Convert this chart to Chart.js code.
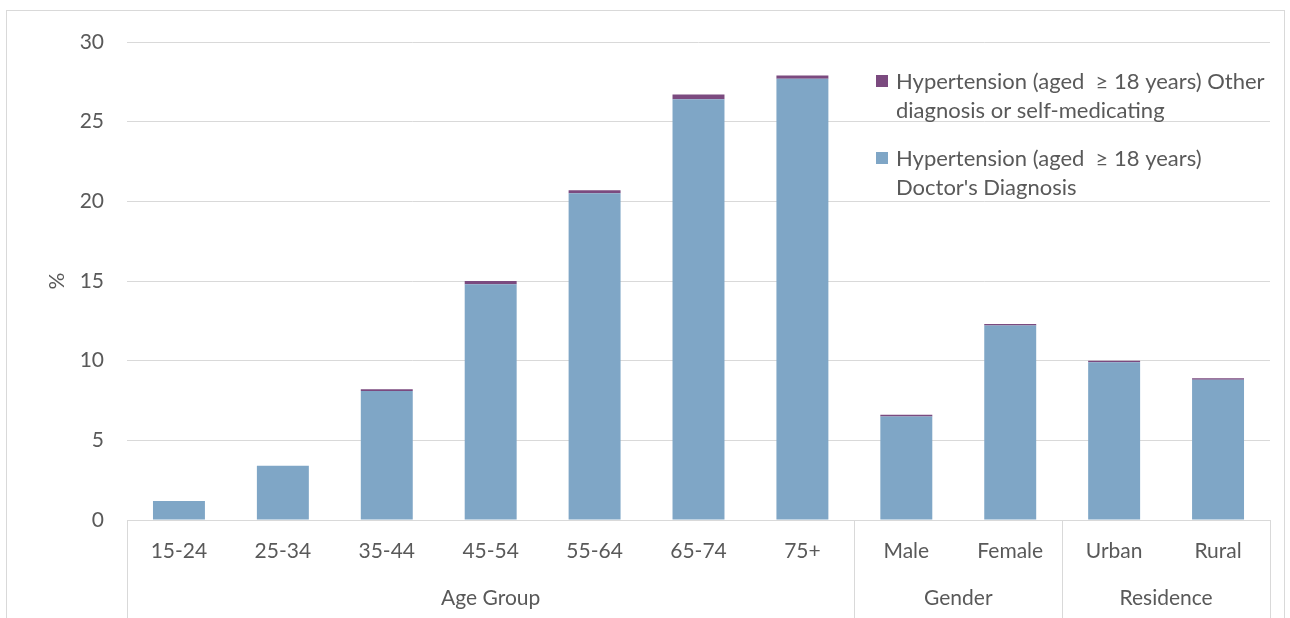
<!DOCTYPE html>
<html>
<head>
<meta charset="utf-8">
<script src="https://cdn.jsdelivr.net/npm/chart.js@4/dist/chart.umd.min.js"></script>
<style>
  html, body { margin: 0; padding: 0; background: #ffffff; }
  #wrap { width: 1290px; height: 618px; position: relative; }
</style>
</head>
<body>
<div id="wrap"><canvas id="c" width="1290" height="618"></canvas></div>
<script>
const categories = ['15-24', '25-34', '35-44', '45-54', '55-64', '65-74', '75+', 'Male', 'Female', 'Urban', 'Rural'];
const groupLabels = ['Age Group', 'Gender', 'Residence'];
const groupSizes = [7, 2, 2];
const doctorDiagnosis = [1.2, 3.4, 8.1, 14.8, 20.5, 26.4, 27.7, 6.5, 12.2, 9.9, 8.8];
const otherDiagnosis = [0, 0, 0.1, 0.2, 0.2, 0.3, 0.2, 0.1, 0.1, 0.1, 0.1];
const doctorLabelLines = ['Hypertension (aged  \u2265 18 years)', "Doctor's Diagnosis"];
const otherLabelLines = ['Hypertension (aged  \u2265 18 years) Other', 'diagnosis or self-medicating'];
const yTicks = [0, 5, 10, 15, 20, 25, 30];
const yTitle = '%';

const FONT = 'Lato, "Open Sans", sans-serif';
const FS = 21;
const LEGEND_FS = 22;
const TEXT = '#595959';
const GRID = '#d9d9d9';
const BLUE = '#7fa6c6';
const PURPLE = '#7b4a7f';

const framePlugin = {
  id: 'frame',
  beforeDraw(chart) {
    const ctx = chart.ctx;
    ctx.save();
    ctx.strokeStyle = GRID;
    ctx.lineWidth = 1;
    ctx.strokeRect(6.5, 10.5, 1278, 700);
    ctx.restore();
  }
};

const groupAxisPlugin = {
  id: 'groupAxis',
  afterDraw(chart) {
    const ctx = chart.ctx;
    const x = chart.scales.x;
    const area = chart.chartArea;
    const half = (x.getPixelForValue(1) - x.getPixelForValue(0)) / 2;
    ctx.save();
    ctx.strokeStyle = GRID;
    ctx.lineWidth = 1;
    let start = 0;
    const bottom = 618;
    const drawV = (px) => {
      ctx.beginPath();
      ctx.moveTo(Math.round(px) + 0.5, area.bottom);
      ctx.lineTo(Math.round(px) + 0.5, bottom);
      ctx.stroke();
    };
    drawV(x.getPixelForValue(0) - half);
    ctx.fillStyle = TEXT;
    ctx.font = FS + 'px ' + FONT;
    ctx.textAlign = 'center';
    ctx.textBaseline = 'middle';
    for (let g = 0; g < groupSizes.length; g++) {
      const end = start + groupSizes[g] - 1;
      const l = x.getPixelForValue(start) - half;
      const r = x.getPixelForValue(end) + half;
      drawV(r);
      ctx.fillText(groupLabels[g], (l + r) / 2, 598);
      start = end + 1;
    }
    ctx.translate(57, (area.top + area.bottom) / 2);
    ctx.rotate(-Math.PI / 2);
    ctx.fillText(yTitle, 0, 0);
    ctx.restore();
  }
};

const legendPlugin = {
  id: 'customLegend',
  afterDraw(chart) {
    const ctx = chart.ctx;
    ctx.save();
    ctx.font = LEGEND_FS + 'px ' + FONT;
    ctx.textAlign = 'left';
    ctx.textBaseline = 'middle';
    const items = [
      { color: chart.data.datasets[1].backgroundColor, lines: otherLabelLines, y: 81 },
      { color: chart.data.datasets[0].backgroundColor, lines: doctorLabelLines, y: 158 }
    ];
    items.forEach(it => {
      ctx.fillStyle = it.color;
      ctx.fillRect(876, it.y - 6, 12, 12);
      ctx.fillStyle = TEXT;
      it.lines.forEach((ln, i) => ctx.fillText(ln, 896, it.y + 1 + i * 28.5));
    });
    ctx.restore();
  }
};

new Chart(document.getElementById('c'), {
  type: 'bar',
  data: {
    labels: categories,
    datasets: [
      {
        label: doctorLabelLines.join(' '),
        data: doctorDiagnosis,
        backgroundColor: BLUE,
        borderWidth: 0,
        barPercentage: 0.5,
        categoryPercentage: 1.0
      },
      {
        label: otherLabelLines.join(' '),
        data: otherDiagnosis,
        backgroundColor: PURPLE,
        borderWidth: 0,
        barPercentage: 0.5,
        categoryPercentage: 1.0
      }
    ]
  },
  options: {
    responsive: false,
    animation: false,
    devicePixelRatio: 1,
    layout: { padding: { left: 0, right: 20, top: 42, bottom: 0 } },
    plugins: {
      legend: { display: false },
      tooltip: { enabled: false }
    },
    scales: {
      x: {
        stacked: true,
        grid: { display: false, drawTicks: false },
        border: { display: true, color: GRID, width: 1 },
        ticks: { color: TEXT, font: { family: FONT, size: FS }, padding: 19, maxRotation: 0, autoSkip: false },
        afterFit(s) { s.height = 98; }
      },
      y: {
        stacked: true,
        min: 0,
        max: 30,
        afterBuildTicks(s) { s.ticks = yTicks.map(v => ({ value: v })); },
        grid: { color: GRID, drawTicks: false, lineWidth: 1 },
        border: { display: false },
        ticks: { color: TEXT, font: { family: FONT, size: FS }, padding: 23 },
        title: { display: false },
        afterFit(s) { s.width = 127; }
      }
    }
  },
  plugins: [framePlugin, groupAxisPlugin, legendPlugin]
});
</script>
</body>
</html>
